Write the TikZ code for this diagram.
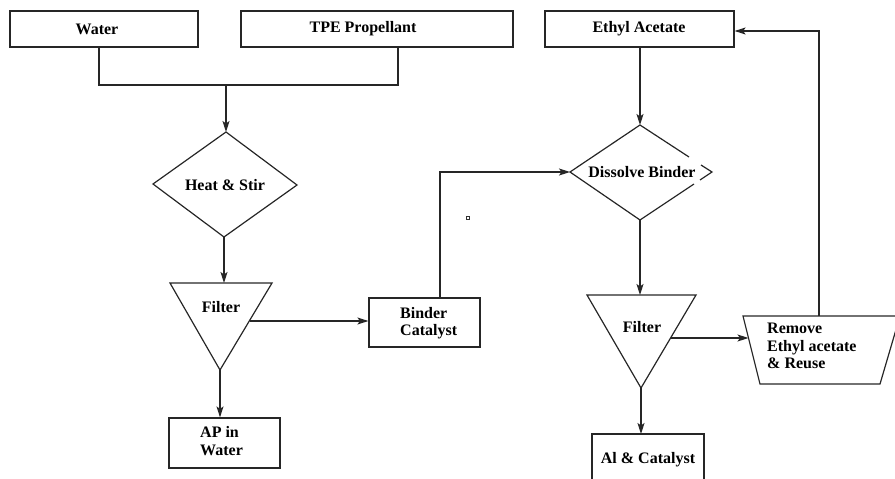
\documentclass[tikz,border=0pt]{standalone}
\usepackage{fontspec}
\setmainfont{Liberation Serif}
\usetikzlibrary{arrows.meta}
\begin{document}
\begin{tikzpicture}[x=1pt,y=-1pt,
  ln/.style={line width=1.2pt,draw=black!85},
  arr/.style={ln,-{Stealth[length=11pt,width=7pt,inset=2.5pt]}},
  lbl/.style={font=\bfseries\fontsize{16}{17.6}\selectfont,inner sep=0pt,align=left},
  boxn/.style={ln,rectangle,inner sep=0pt}]
\useasboundingbox (0,0) rectangle (895,479);
\clip (0,0) rectangle (895,479);
% top boxes
\node[boxn,minimum width=188,minimum height=36] (water) at (104,29) {};
\node[lbl] (watert) at (97,29) {Water};
\node[boxn,minimum width=272,minimum height=36] (tpe) at (377,29) {};
\node[lbl] (tpet) at (363,28.5) {TPE Propellant};
\node[boxn,minimum width=189,minimum height=36] (ethyl) at (639.5,29) {};
\node[lbl] (ethylt) at (639,28.5) {Ethyl Acetate};
% join
\coordinate (wd) at (99,85);
\coordinate (td) at (398,85);
\coordinate (jn) at (226,85);
\draw[ln] (water.south -| wd) -- (wd) -- (td) -- (tpe.south -| td);
% heat & stir diamond
\coordinate (hsT) at (226,132);
\coordinate (hsR) at (297,185);
\coordinate (hsB) at (224,237);
\coordinate (hsL) at (153,184);
\draw[ln] (hsT) -- (hsR) -- (hsB) -- (hsL) -- cycle;
\node[lbl] (hst) at (225,185) {Heat \& Stir};
\draw[arr] (jn) -- (hsT);
% filter 1
\coordinate (f1a) at (170,283);
\coordinate (f1b) at (272,283);
\coordinate (f1c) at (220,370);
\draw[ln] (f1a) -- (f1b) -- (f1c) -- cycle;
\node[lbl] (f1t) at (221,307) {Filter};
\draw[arr] (hsB) -- (224,283);
% binder catalyst
\node[boxn,minimum width=111,minimum height=49] (binder) at (424.5,322.5) {};
\node[lbl,anchor=west] (bindert) at (400,323) {Binder\\Catalyst};
\coordinate (f1r) at (250,321);
\draw[arr] (f1r) -- (f1r -| binder.west);
% AP in water
\node[boxn,minimum width=111,minimum height=50] (ap) at (224.5,443) {};
\node[lbl,anchor=west] (apt) at (200,441) {AP in\\Water};
\draw[arr] (f1c) -- (f1c |- ap.north);
% dissolve binder diamond
\coordinate (dbT) at (640,125);
\coordinate (dbR) at (712,172);
\coordinate (dbB) at (640,220);
\coordinate (dbL) at (570,172);
\draw[ln] (689,157) -- (dbT) -- (dbL) -- (dbB) -- (694,184);
\draw[ln] (701,165) -- (dbR) -- (700,180);
\node[lbl] (dbt) at (642,172) {Dissolve Binder};
\draw[arr] (ethyl.south -| dbT) -- (dbT);
\coordinate (bk) at (440,172);
\draw[arr] (binder.north -| bk) -- (bk) -- (dbL);
% small square
\node[draw=black!80,line width=0.8pt,minimum size=3.5pt,inner sep=0pt] (dot) at (468,218) {};
% filter 2
\coordinate (f2a) at (587,295);
\coordinate (f2b) at (696,295);
\coordinate (f2c) at (641,388);
\draw[ln] (f2a) -- (f2b) -- (f2c) -- cycle;
\node[lbl] (f2t) at (642,327) {Filter};
\draw[arr] (dbB) -- (640,295);
% trapezoid
\coordinate (tzA) at (743,316);
\coordinate (tzB) at (900,316);
\coordinate (tzC) at (880,384);
\coordinate (tzD) at (760,384);
\draw[ln] (tzA) -- (tzB) -- (tzC) -- (tzD) -- cycle;
\node[lbl,anchor=west] (tzt) at (767,346) {Remove\\Ethyl acetate\\\& Reuse};
\draw[arr] (671,338) -- (748.5,338);
% feedback
\coordinate (fbT) at (819,31);
\draw[arr] (819,316) -- (fbT) -- (fbT -| ethyl.east);
% Al & catalyst
\coordinate (alL) at (592,434);
\coordinate (alR) at (704,434);
\draw[ln] (592,485) -- (alL) -- (alR) -- (704,485);
\node[lbl] (alt) at (648,460) {Al \& Catalyst};
\draw[arr] (f2c) -- (641,434);
\end{tikzpicture}
\end{document}
